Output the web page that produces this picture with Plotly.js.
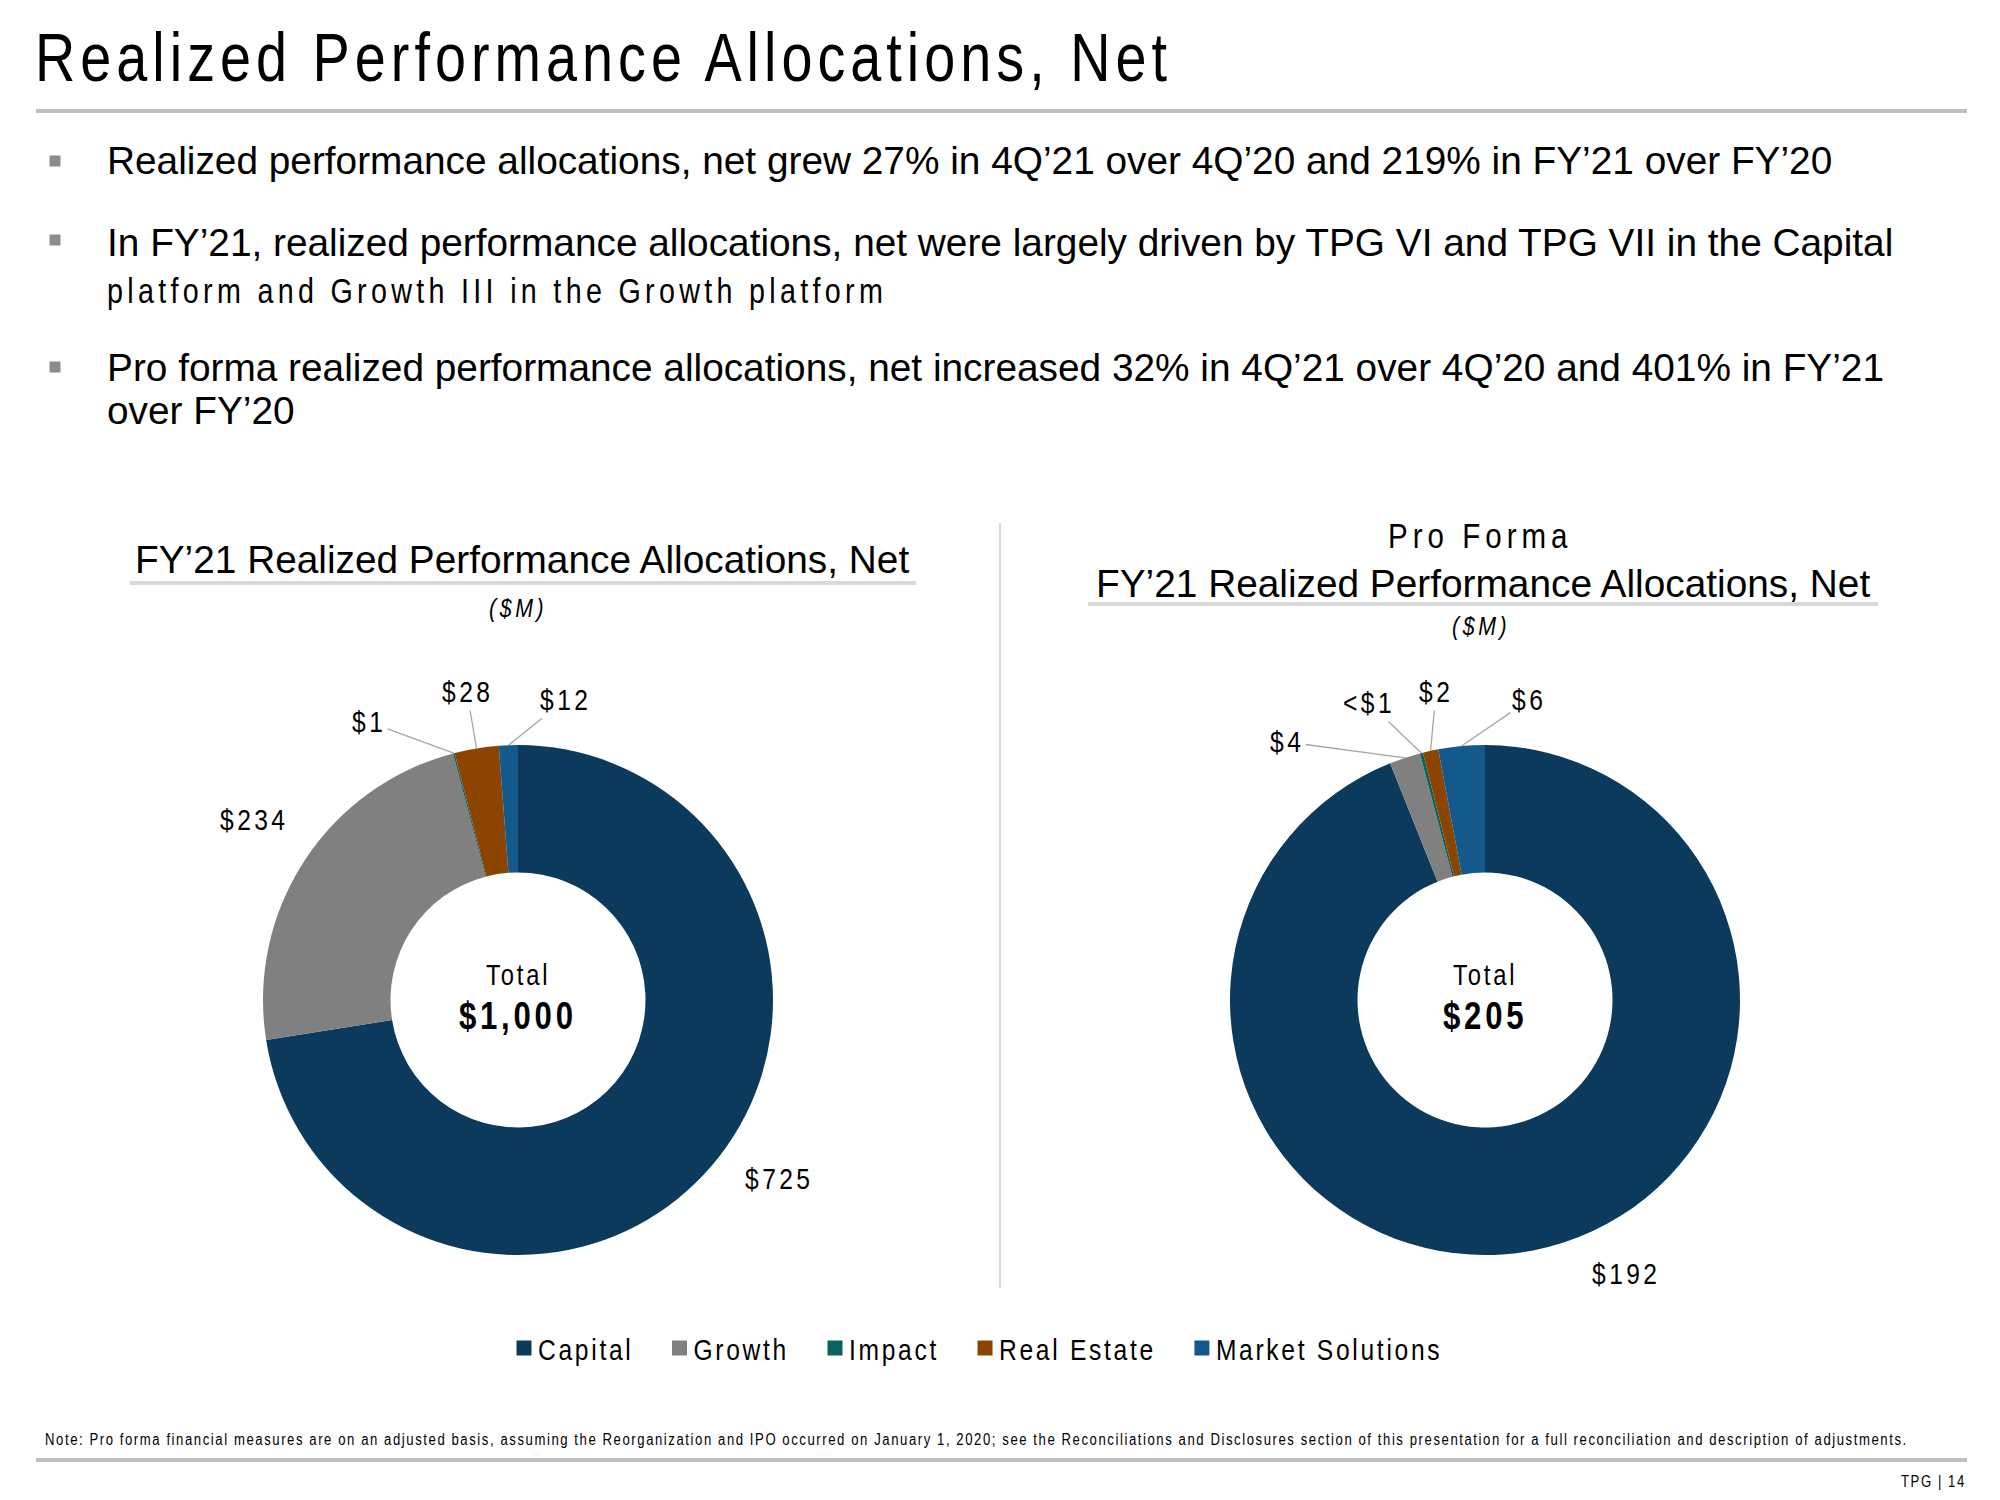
<!DOCTYPE html>
<html><head><meta charset="utf-8">
<script src="https://cdn.plot.ly/plotly-3.0.1.min.js"></script>
<style>
html,body{margin:0;padding:0;background:#fff;}
#chart{width:2000px;height:1500px;}
text[style*="nrw"]{transform:scaleX(0.82);transform-box:fill-box;transform-origin:center;}
text.legendtext[style*="nrw"]{transform-origin:left center;}
text[style*="nrw09"]{letter-spacing:0.09em;}
text[style*="nrw11"]{letter-spacing:0.11em;}
text[style*="nrw12"]{letter-spacing:0.12em;}
text[style*="nrw14"]{letter-spacing:0.14em;}
text[style*="nrw15"]{letter-spacing:0.15em;}
text[style*="nrw17"]{letter-spacing:0.17em;}
</style></head>
<body><div id="chart"></div>
<script>
// ---------------- data ----------------
const categories = ['Capital', 'Growth', 'Impact', 'Real Estate', 'Market Solutions'];
const fy21Values = [725, 234, 1, 28, 12];
const fy21Labels = ['$725', '$234', '$1', '$28', '$12'];
const proFormaValues = [192, 4, 0.4, 2, 6];
const proFormaLabels = ['$192', '$4', '&lt;$1', '$2', '$6'];
const sliceColors = ['#0b3a5c', '#808080', '#0a625c', '#8c4500', '#13598c'];
const fy21Total = '$1,000';
const proFormaTotal = '$205';

const headline = 'Realized Performance Allocations, Net';
const bulletLines = [
  'Realized performance allocations, net grew 27% in 4Q’21 over 4Q’20 and 219% in FY’21 over FY’20',
  'In FY’21, realized performance allocations, net were largely driven by TPG VI and TPG VII in the Capital',
  'platform and Growth III in the Growth platform',
  'Pro forma realized performance allocations, net increased 32% in 4Q’21 over 4Q’20 and 401% in FY’21',
  'over FY’20'
];
const leftTitle = 'FY’21 Realized Performance Allocations, Net';
const rightTitleTop = 'Pro Forma';
const rightTitle = 'FY’21 Realized Performance Allocations, Net';
const unitLabel = '($M)';
const totalWord = 'Total';
const noteText = 'Note: Pro forma financial measures are on an adjusted basis, assuming the Reorganization and IPO occurred on January 1, 2020; see the Reconciliations and Disclosures section of this presentation for a full reconciliation and description of adjustments.';
const pageText = 'TPG | 14';

// ---------------- layout helpers ----------------
const W = 2000, H = 1500;
const px = x => x / W;
const py = y => 1 - y / H;
const fam = code => '"Liberation Sans", Arial, nrw' + code + ', sans-serif';
const REG = '"Liberation Sans", Arial, Helvetica, sans-serif';

const pieGeom = [{cx: 518, cy: 1000, r: 255}, {cx: 1485, cy: 1000, r: 255}];
const fy21LabelPos = [[779, 1179], [254, 820], [369, 722], [467, 692], [565, 700]];
const fy21Leader = [false, false, true, true, true];
const pfLabelPos = [[1626, 1274], [1287, 742], [1369, 703], [1436, 692], [1529, 700]];
const pfLeader = [false, true, true, true, true];

function sliceAnchor(values, i, g) {
  const tot = values.reduce((a, b) => a + b, 0);
  let cum = 0;
  for (let k = 0; k < i; k++) cum += values[k];
  const th = 2 * Math.PI * (cum + values[i] / 2) / tot;
  return [g.cx + g.r * Math.sin(th), g.cy - g.r * Math.cos(th)];
}

const labelFont = {family: fam('14'), size: 30, color: '#000'};
function pieLabelAnnots(values, labels, pos, leader, g) {
  return labels.map((t, i) => {
    const [lx, ly] = pos[i];
    if (!leader[i]) {
      return {x: px(lx), y: py(ly), xref: 'paper', yref: 'paper', text: t, showarrow: false,
              xanchor: 'center', yanchor: 'middle', font: labelFont};
    }
    const [axp, ayp] = sliceAnchor(values, i, g);
    return {x: px(axp), y: py(ayp), xref: 'paper', yref: 'paper', text: t, showarrow: true,
            arrowhead: 0, arrowwidth: 1.3, arrowcolor: '#a6a6a6', standoff: 0, startstandoff: 0,
            ax: lx - axp, ay: ly - ayp, font: labelFont};
  });
}

function domainOf(g) {
  return {x: [px(g.cx - g.r), px(g.cx + g.r)], y: [py(g.cy + g.r), py(g.cy - g.r)]};
}

const traces = [
  {type: 'pie', labels: categories, values: fy21Values, sort: false, direction: 'clockwise', rotation: 0,
   hole: 0.5, marker: {colors: sliceColors, line: {width: 0}}, textinfo: 'none',
   domain: domainOf(pieGeom[0]), hoverinfo: 'label+value', showlegend: true},
  {type: 'pie', labels: categories, values: proFormaValues, sort: false, direction: 'clockwise', rotation: 0,
   hole: 0.5, marker: {colors: sliceColors, line: {width: 0}}, textinfo: 'none',
   domain: domainOf(pieGeom[1]), hoverinfo: 'label+value', showlegend: true}
];

function txt(text, x, y, font, xanchor) {
  return {x: px(x), y: py(y), xref: 'paper', yref: 'paper', text: text, showarrow: false,
          xanchor: xanchor || 'center', yanchor: 'middle', font: font};
}
const bulletFont = {family: REG, size: 38.8, color: '#000'};
const annotations = [
  txt(headline, 33, 58, {family: fam('09'), size: 68, color: '#000'}, 'left'),
  txt(bulletLines[0], 105, 161, bulletFont, 'left'),
  txt(bulletLines[1], 105, 242, bulletFont, 'left'),
  txt(bulletLines[2], 105, 290, {family: fam('15'), size: 35, color: '#000'}, 'left'),
  txt(bulletLines[3], 105, 367, bulletFont, 'left'),
  txt(bulletLines[4], 105, 410, bulletFont, 'left'),
  txt(leftTitle, 522, 560, {family: REG, size: 38.8, color: '#000'}),
  txt('<i>' + unitLabel + '</i>', 518, 608, {family: fam('17'), size: 26, color: '#000'}),
  txt(rightTitleTop, 1480, 535, {family: fam('17'), size: 36, color: '#000'}),
  txt(rightTitle, 1483, 583, {family: REG, size: 38.8, color: '#000'}),
  txt('<i>' + unitLabel + '</i>', 1481, 626, {family: fam('17'), size: 26, color: '#000'}),
  txt(totalWord, pieGeom[0].cx, 975, {family: fam('12'), size: 29, color: '#000'}),
  txt('<b>' + fy21Total + '</b>', pieGeom[0].cx, 1016, {family: fam('12'), size: 38, color: '#000'}),
  txt(totalWord, pieGeom[1].cx, 975, {family: fam('12'), size: 29, color: '#000'}),
  txt('<b>' + proFormaTotal + '</b>', pieGeom[1].cx, 1016, {family: fam('12'), size: 38, color: '#000'}),
  txt(noteText, 43, 1439, {family: fam('12'), size: 16, color: '#000'}, 'left'),
  txt(pageText, 1968, 1481, {family: fam('12'), size: 16, color: '#000'}, 'right')
].concat(
  pieLabelAnnots(fy21Values, fy21Labels, fy21LabelPos, fy21Leader, pieGeom[0]),
  pieLabelAnnots(proFormaValues, proFormaLabels, pfLabelPos, pfLeader, pieGeom[1])
);

function hline(x0, x1, y, w, c) {
  return {type: 'line', xref: 'paper', yref: 'paper', x0: px(x0), x1: px(x1), y0: py(y), y1: py(y),
          line: {color: c, width: w}};
}
function bulletSq(cx, cy) {
  return {type: 'rect', xref: 'paper', yref: 'paper', x0: px(cx - 5.5), x1: px(cx + 5.5),
          y0: py(cy + 5.5), y1: py(cy - 5.5), fillcolor: '#8c8c8c', line: {width: 0}};
}
const shapes = [
  hline(36, 1967, 111, 4, '#bfbfbf'),
  hline(36, 1967, 1460, 4, '#bfbfbf'),
  hline(130, 916, 583, 4, '#d9d9d9'),
  hline(1088, 1878, 604, 4, '#d9d9d9'),
  {type: 'line', xref: 'paper', yref: 'paper', x0: px(1000), x1: px(1000), y0: py(523), y1: py(1288),
   line: {color: '#d9d9d9', width: 2}},
  bulletSq(55, 161), bulletSq(55, 240), bulletSq(55, 367)
];

const layout = {
  width: W, height: H,
  margin: {l: 0, r: 0, t: 0, b: 0},
  paper_bgcolor: '#fff', plot_bgcolor: '#fff',
  showlegend: true,
  legend: {orientation: 'h', x: px(483), xanchor: 'left', y: py(1348), yanchor: 'middle',
           itemwidth: 45,
           font: {family: fam('11'), size: 30, color: '#000'}, traceorder: 'normal',
           itemclick: false, itemdoubleclick: false},
  annotations: annotations,
  shapes: shapes
};

Plotly.newPlot('chart', traces, layout, {displayModeBar: false, staticPlot: true}).then(function () {
  document.querySelectorAll('.legendpie').forEach(function (p) {
    p.setAttribute('d', 'M7.5,7.5H-7.5V-7.5H7.5Z');
    p.setAttribute('transform', 'translate(41,0)');
  });
});
</script>
</body></html>
